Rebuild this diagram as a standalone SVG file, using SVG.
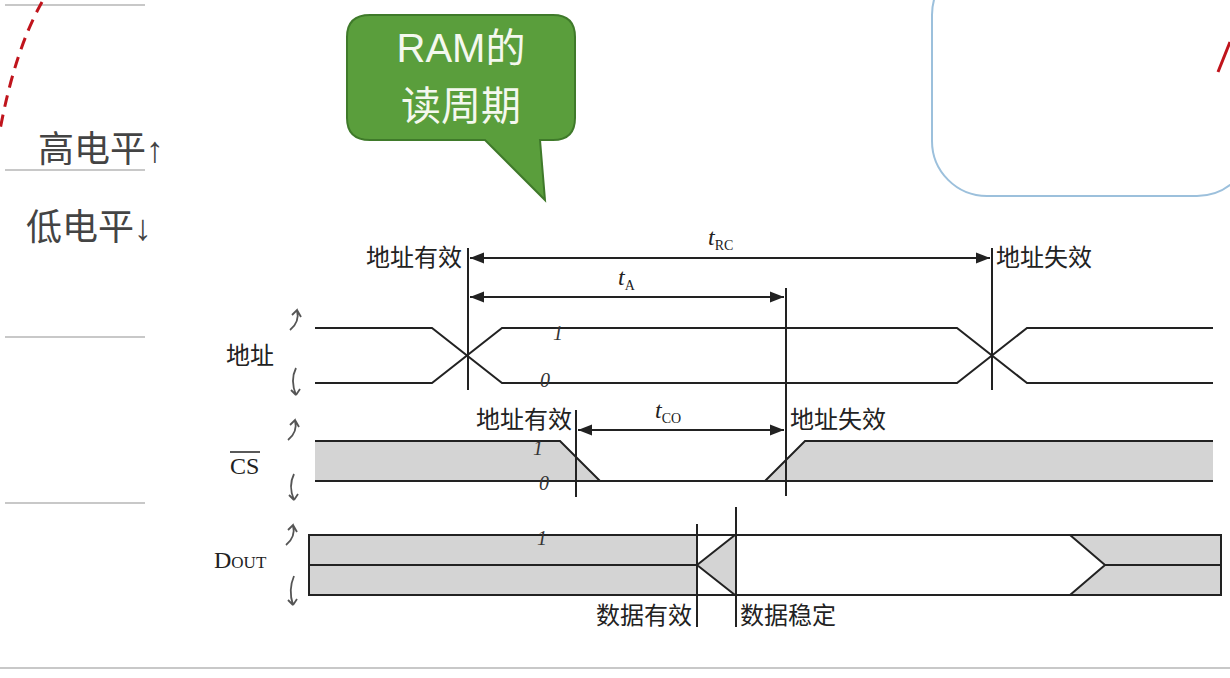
<svg xmlns="http://www.w3.org/2000/svg" width="1230" height="678" viewBox="0 0 1230 678">
<style>
.s{stroke:#222;stroke-width:2;fill:none}
.g{fill:#d4d4d4;stroke:none}
.t{font-family:"Liberation Serif","Noto Sans CJK SC",serif;font-size:24px;fill:#222}
.h{font-family:"Liberation Serif","Noto Sans CJK SC",serif;font-size:36px;fill:#444}
.m{font-family:"Liberation Serif",serif;font-style:italic;font-size:20px;fill:#333}
.sep{stroke:#c8c8c8;stroke-width:2}
.c{stroke:#555;stroke-width:1.8;fill:none}
</style>
<defs>
<marker id="a" viewBox="0 0 10 10" refX="10" refY="5" markerWidth="9" markerHeight="7" orient="auto-start-reverse"><path d="M0,1 L10,5 L0,9z" fill="#222"/></marker>
</defs>
<rect width="1230" height="678" fill="#fff"/>
<g id="background">
<line class="sep" x1="5" y1="5" x2="145" y2="5"/>
<line class="sep" x1="5" y1="170" x2="145" y2="170"/>
<line class="sep" x1="5" y1="337" x2="145" y2="337"/>
<line class="sep" x1="5" y1="503" x2="145" y2="503"/>
<line class="sep" x1="0" y1="668" x2="1230" y2="668"/>
<path d="M42,2 Q15,50 0,130" stroke="#c0141c" stroke-width="3" stroke-dasharray="12,8" fill="none"/>
<rect x="932" y="-40" width="320" height="236" rx="55" fill="none" stroke="#9cc0dc" stroke-width="2"/>
<path d="M1230,42 L1218,72" stroke="#c0141c" stroke-width="3"/>
<text class="h" x="38" y="162">高电平↑</text>
<text class="h" x="26" y="240">低电平↓</text>
</g>
<g id="callout">
<path d="M370,15 H553 Q575,15 575,37 V118 Q575,140 553,140 H540 L545,200 L485,140 H370 Q347,140 347,118 V37 Q347,15 370,15z" fill="#5a9e3c" stroke="#3f7a2a" stroke-width="2"/>
<text x="461" y="62" text-anchor="middle" font-family="Liberation Sans,Noto Sans CJK SC,sans-serif" font-size="40" fill="#f4f8ee">RAM的</text>
<text x="461" y="120" text-anchor="middle" font-family="Noto Sans CJK SC,sans-serif" font-size="40" fill="#f4f8ee">读周期</text>
</g>
<g id="signals">
<path class="g" d="M315,441 H560 L600,481 H315z"/>
<path class="g" d="M765,481 L805,441 H1213 V481z"/>
<path class="g" d="M309,535 H697 V595 H309z"/>
<path class="g" d="M697,565 L735,535 V595z"/>
<path class="g" d="M1070,535 H1221 V595 H1070 L1105,565z"/>
<path class="s" d="M315,328 H432 L502,383 H957 L1027,328 H1213"/>
<path class="s" d="M315,383 H432 L502,328 H957 L1027,383 H1213"/>
<path class="s" d="M315,441 H560 L600,481 H765 L805,441 H1213"/>
<path class="s" d="M315,481 H1213"/>
<rect class="s" x="309" y="535" width="912" height="60"/>
<path class="s" d="M309,565 H697 L735,535 M697,565 L735,595 M1070,535 L1105,565 L1070,595 M1105,565 H1221"/>
</g>
<g id="connectors">
<line class="s" x1="468" y1="248" x2="468" y2="390"/>
<line class="s" x1="992" y1="248" x2="992" y2="390"/>
<line class="s" x1="786" y1="288" x2="786" y2="496"/>
<line class="s" x1="576" y1="410" x2="576" y2="497"/>
<line class="s" x1="697" y1="524" x2="697" y2="627"/>
<line class="s" x1="736" y1="507" x2="736" y2="627"/>
<line class="s" x1="470" y1="258" x2="990" y2="258" marker-start="url(#a)" marker-end="url(#a)"/>
<line class="s" x1="470" y1="297" x2="784" y2="297" marker-start="url(#a)" marker-end="url(#a)"/>
<line class="s" x1="578" y1="430" x2="784" y2="430" marker-start="url(#a)" marker-end="url(#a)"/>
<path class="c" d="M290,330 Q300,322 297,310 L292,315 M297,310 L301,317"/>
<path class="c" d="M296,368 Q290,380 296,395 L291,390 M296,395 L300,389"/>
<path class="c" d="M288,440 Q298,432 295,420 L290,425 M295,420 L299,427"/>
<path class="c" d="M294,474 Q288,486 294,500 L289,495 M294,500 L298,494"/>
<path class="c" d="M286,545 Q296,537 293,525 L288,530 M293,525 L297,532"/>
<path class="c" d="M294,576 Q288,590 293,605 L288,600 M293,605 L297,599"/>
</g>
<g id="labels">
<text class="t" x="708" y="245" font-style="italic">t<tspan font-size="14" font-style="normal" dy="5">RC</tspan></text>
<text class="t" x="618" y="285" font-style="italic">t<tspan font-size="14" font-style="normal" dy="5">A</tspan></text>
<text class="t" x="655" y="418" font-style="italic">t<tspan font-size="14" font-style="normal" dy="5">CO</tspan></text>
<text class="t" x="462" y="266" text-anchor="end">地址有效</text>
<text class="t" x="996" y="266">地址失效</text>
<text class="t" x="572" y="428" text-anchor="end">地址有效</text>
<text class="t" x="790" y="428">地址失效</text>
<text class="t" x="692" y="624" text-anchor="end">数据有效</text>
<text class="t" x="740" y="624">数据稳定</text>
<text class="t" x="226" y="364">地址</text>
<text class="t" x="230" y="474">CS</text>
<line x1="230" y1="452" x2="260" y2="452" stroke="#222" stroke-width="1.5"/>
<text class="t" x="214" y="568">D<tspan font-size="17">OUT</tspan></text>
<text class="m" x="553" y="340">1</text>
<text class="m" x="540" y="387">0</text>
<text class="m" x="533" y="455">1</text>
<text class="m" x="539" y="490">0</text>
<text class="m" x="537" y="545">1</text>
</g>
</svg>
